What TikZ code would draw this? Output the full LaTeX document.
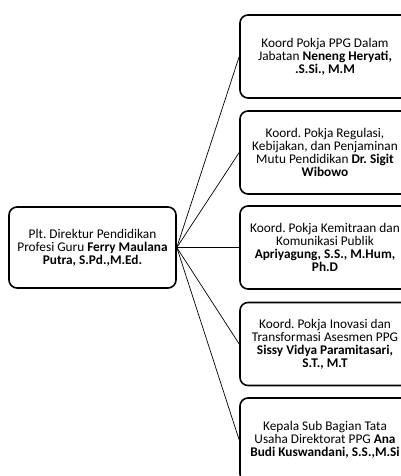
\documentclass[tikz,border=0pt]{standalone}
\usepackage{fontspec}
\setmainfont{Carlito}
\frenchspacing
\begin{document}
\begin{tikzpicture}[x=1pt,y=-1pt,
  box/.style={draw=black, line width=1.6pt, rounded corners=8pt, align=center,
    font=\fontsize{13.3}{13}\selectfont, inner sep=0pt},
  lbox/.style={box, minimum width=167pt, minimum height=81pt},
  rbox/.style={box, minimum width=170pt, minimum height=83pt},
  link/.style={draw=black, line width=0.7pt}]
\useasboundingbox (0,0) rectangle (401,476);
\clip (0,0) rectangle (401,476);
\node[lbox] (root) at (92.5,247.5) {Plt. Direktur Pendidikan\\Profesi Guru \textbf{Ferry Maulana}\\\textbf{Putra, S.Pd.,M.Ed.}};
\node[rbox] (b1) at (325,56.5) {Koord Pokja PPG Dalam\\Jabatan \textbf{Neneng Heryati,}\\\textbf{.S.Si., M.M}};
\node[rbox] (b2) at (325,152.5) {Koord. Pokja Regulasi,\\Kebijakan, dan Penjaminan\\Mutu Pendidikan \textbf{Dr. Sigit}\\\textbf{Wibowo}};
\node[rbox] (b3) at (325,247.5) {Koord. Pokja Kemitraan dan\\Komunikasi Publik\\\textbf{Apriyagung, S.S., M.Hum,}\\\textbf{Ph.D}};
\node[rbox] (b4) at (325,344) {Koord. Pokja Inovasi dan\\Transformasi Asesmen PPG\\\textbf{Sissy Vidya Paramitasari,}\\\textbf{S.T., M.T}};
\node[rbox, minimum height=84pt] (b5) at (325,440) {Kepala Sub Bagian Tata\\Usaha Direktorat PPG \textbf{Ana}\\\textbf{Budi Kuswandani, S.S.,M.Si}};
\foreach \b in {b1,b2,b3,b4,b5}
  \draw[link] (root.east) -- (\b.west);
\end{tikzpicture}
\end{document}
